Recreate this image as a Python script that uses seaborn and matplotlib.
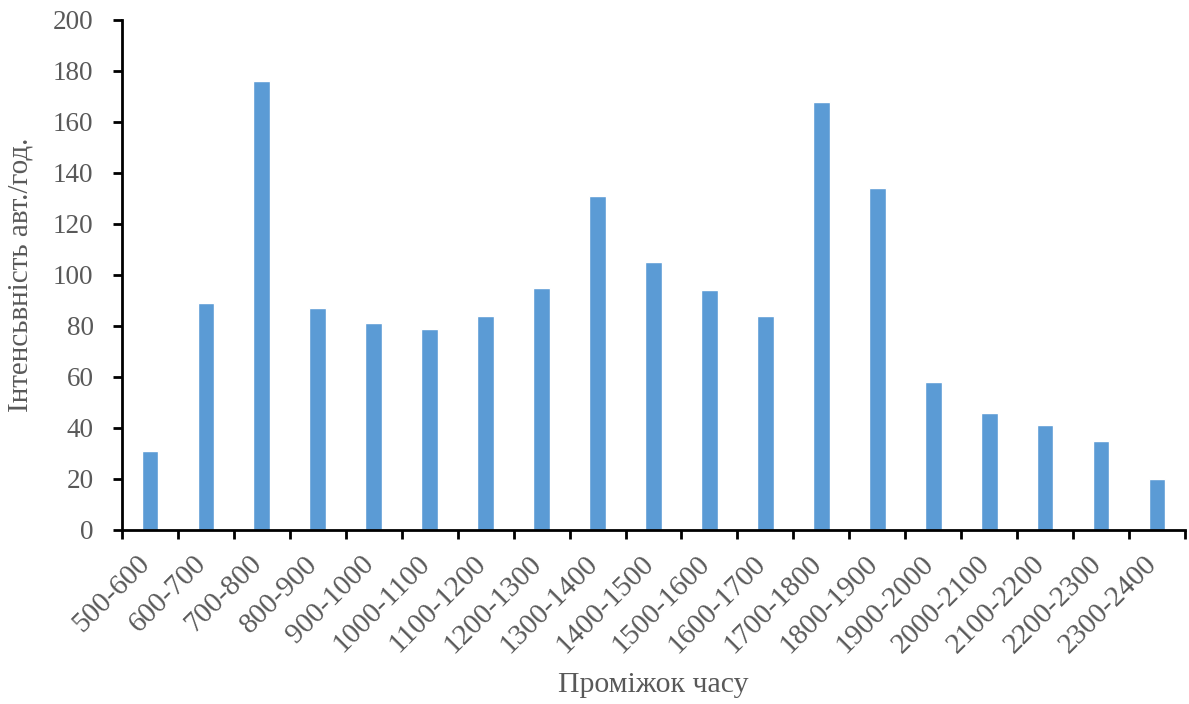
import numpy as np
import pandas as pd
import matplotlib
matplotlib.use("Agg")
import matplotlib.pyplot as plt
from matplotlib.ticker import FixedLocator
from matplotlib.transforms import ScaledTranslation
import seaborn as sns

# Hourly traffic intensity by time interval
intervals = ["500-600", "600-700", "700-800", "800-900", "900-1000", "1000-1100",
             "1100-1200", "1200-1300", "1300-1400", "1400-1500", "1500-1600",
             "1600-1700", "1700-1800", "1800-1900", "1900-2000", "2000-2100",
             "2100-2200", "2200-2300", "2300-2400"]
intensity = [31, 89, 176, 87, 81, 79, 84, 95, 131, 105, 94, 84, 168, 134,
             58, 46, 41, 35, 20]

df = pd.DataFrame({"interval": intervals, "intensity": intensity})

sns.set_theme(style="white")
plt.rcParams["font.family"] = ["Liberation Serif", "DejaVu Serif"]

text_color = "#595959"
fig = plt.figure(figsize=(11.89, 7.04), dpi=100)
ax = fig.add_axes([0.1026, 0.2472, 0.8940, 0.7244])

sns.barplot(data=df, x="interval", y="intensity", color="#5B9BD5",
            saturation=1, width=0.3, ax=ax)

n = len(intervals)
ax.set_xlim(-0.5, n - 0.5)
ax.set_ylim(0, 200)
ax.set_yticks(np.arange(0, 201, 20))

for s in ["top", "right"]:
    ax.spines[s].set_visible(False)
for s in ["left", "bottom"]:
    ax.spines[s].set_color("black")
    ax.spines[s].set_linewidth(2)

# category boundaries carry the tick marks, labels sit at bar centres
ax.xaxis.set_minor_locator(FixedLocator(np.arange(-0.5, n, 1.0)))
ax.tick_params(axis="x", which="major", length=0, pad=15)
ax.tick_params(axis="x", which="minor", length=6.5, width=2, color="black",
               direction="out", bottom=True)
ax.tick_params(axis="y", which="major", length=6.5, width=2, color="black",
               direction="out", left=True, labelsize=19.5, labelcolor=text_color, pad=14)

ax.set_xticks(range(n))
ax.set_xticklabels(intervals, rotation=45, ha="right", rotation_mode="anchor",
                   fontsize=21, color=text_color)
shift = ScaledTranslation(-0.13, 0, fig.dpi_scale_trans)
for lbl in ax.get_xticklabels():
    lbl.set_transform(lbl.get_transform() + shift)

ax.set_xlabel("Проміжок часу", fontsize=21.5, color=text_color, va="top")
ax.xaxis.set_label_coords(0.5, -0.278)
ax.set_ylabel("Інтенсьвність авт./год.", fontsize=21, color=text_color)
ax.yaxis.set_label_coords(-0.083, 0.5)

fig.savefig("out.png", dpi=100, facecolor="white")
